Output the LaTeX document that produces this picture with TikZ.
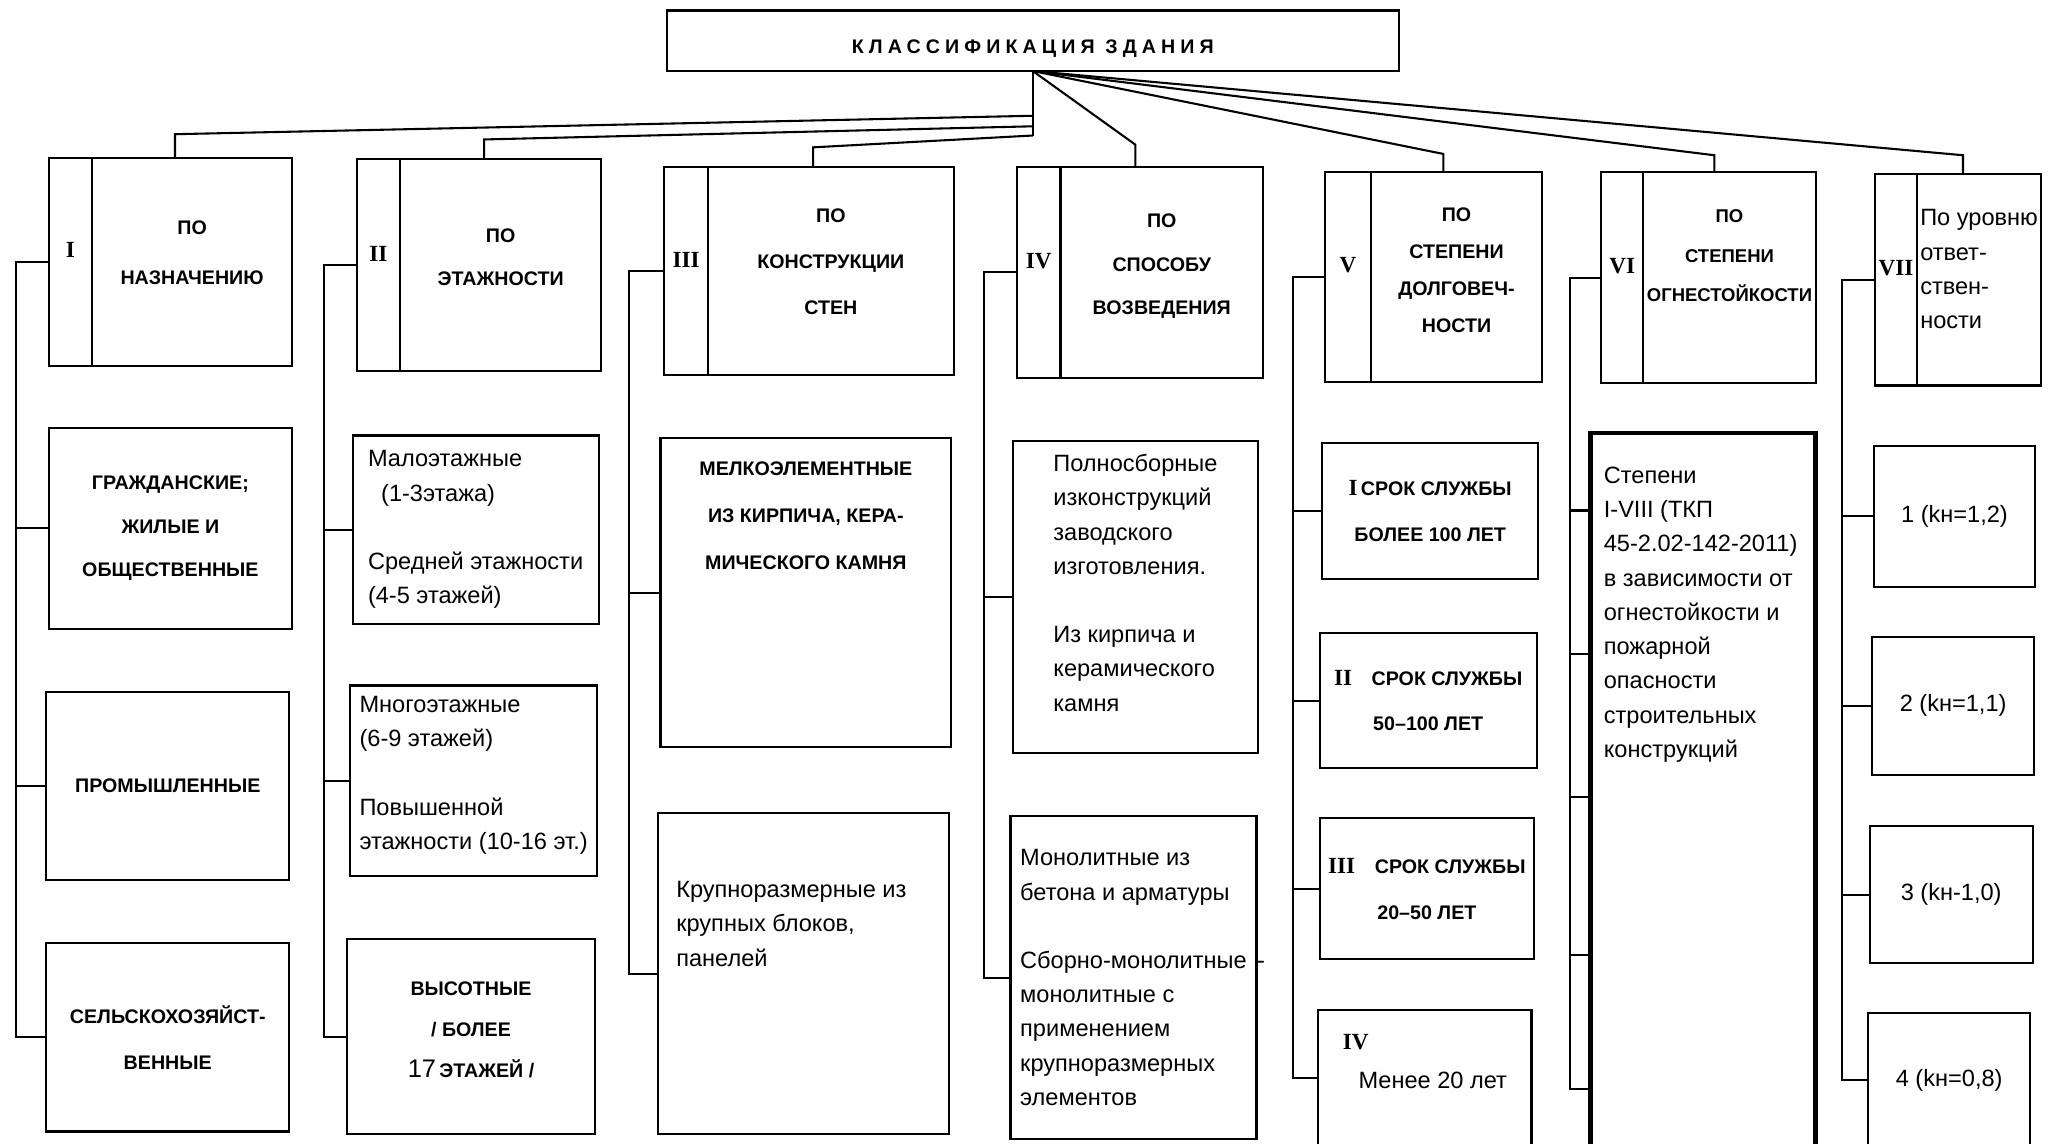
\documentclass[tikz,border=0pt]{standalone}
\usepackage{fontspec}
\setmainfont{Liberation Sans}
\newfontfamily\romfont{Liberation Serif}
\usetikzlibrary{positioning}
\newcommand\rnum[1]{{\romfont\bfseries\fontsize{10}{12}\selectfont #1}}
\newcommand\lift[1]{\rule[-#1]{0pt}{0pt}}

\begin{document}
\begin{tikzpicture}[x=0.2mm, y=-0.2mm,
  every node/.style={font=\fontsize{10.2}{14.8}\selectfont, inner sep=0.6mm, outer sep=0pt},
  box/.style={draw, line width=0.9pt},
  caps/.style={font=\fontsize{8.5}{#1}\selectfont\bfseries},
  caps/.default=19,
  numbox/.style={box, text depth=10pt, font=\romfont\bfseries\fontsize{10}{12}\selectfont},
  link/.style={line width=0.9pt}]

\useasboundingbox (0,0) rectangle (1568,869);
\clip (0,0) rectangle (1568,869);

% title
\node[box, caps, text height=13pt, minimum width=111.2mm, minimum height=9.2mm] (title) at (785,31)
  {\addfontfeature{LetterSpace=26}КЛАССИФИКАЦИЯ ЗДАНИЯ};

% categories: numeral strip + text part
\node[numbox, minimum width=6.6mm, minimum height=31.6mm] (nI) at (53.5,199) {I};
\node[box, caps=21.5, align=center, minimum width=30.4mm, minimum height=31.6mm, right=0pt of nI] (cI) {ПО\\НАЗНАЧЕНИЮ\lift{8pt}};

\node[numbox, minimum width=6.6mm, minimum height=32.2mm] (nII) at (287.5,201.5) {II};
\node[box, caps=18.7, align=center, minimum width=30.6mm, minimum height=32.2mm, right=0pt of nII] (cII) {ПО\\ЭТАЖНОСТИ\lift{7pt}};

\node[numbox, minimum width=6.6mm, minimum height=31.6mm] (nIII) at (521.5,206) {III};
\node[box, caps=19.8, align=center, minimum width=37.4mm, minimum height=31.6mm, right=0pt of nIII] (cIII) {ПО\\КОНСТРУКЦИИ\\СТЕН\lift{8pt}};

\node[numbox, minimum width=6.6mm, minimum height=32mm] (nIV) at (789.5,207) {IV};
\node[box, caps=18.7, align=center, minimum width=30.8mm, minimum height=32mm, right=0pt of nIV] (cIV) {ПО\\СПОСОБУ\\ВОЗВЕДЕНИЯ\lift{7pt}};

\node[numbox, minimum width=7mm, minimum height=31.8mm] (nV) at (1024.5,210.5) {V};
\node[box, caps=15.9, align=center, minimum width=26mm, minimum height=31.8mm, right=0pt of nV] (cV) {ПО\\СТЕПЕНИ\\ДОЛГОВЕЧ-\\НОСТИ\lift{6pt}};

\node[numbox, minimum width=6.4mm, minimum height=32mm] (nVI) at (1233,211) {VI};
\node[box, font=\fontsize{8}{17}\selectfont\bfseries, inner xsep=0pt, align=center, minimum width=26.2mm, minimum height=32mm, right=0pt of nVI] (cVI) {ПО\\СТЕПЕНИ\\ОГНЕСТОЙКОСТИ\lift{19pt}};

\node[numbox, minimum width=6.4mm, minimum height=32.2mm] (nVII) at (1441,212.5) {VII};
\node[box, inner xsep=0.3mm, align=left, minimum width=18.8mm, minimum height=32.2mm, right=0pt of nVII] (cVII) {По уровню\\ответ-\\ствен-\\ности\lift{9pt}};

% column I
\node[box, caps=18.7, align=center, minimum width=37mm, minimum height=30.6mm] (aI1) at (129.5,401.5) {ГРАЖДАНСКИЕ;\\ЖИЛЫЕ И\\ОБЩЕСТВЕННЫЕ};
\node[box, caps, align=center, minimum width=37mm, minimum height=28.6mm] (aI2) at (127.5,597.5) {ПРОМЫШЛЕННЫЕ};
\node[box, caps=19.8, align=center, minimum width=37mm, minimum height=28.6mm] (aI3) at (127.5,788.5) {СЕЛЬСКОХОЗЯЙСТ-\\ВЕННЫЕ};

% column II
\node[box, align=left, minimum width=37.4mm, minimum height=28.6mm] (aII1) at (361.5,402.5)
  {Малоэтажные\\\hspace*{2mm}(1-3этажа)\\[14.8pt]Средней этажности\\(4-5 этажей)};
\node[box, align=left, inner xsep=0.2mm, minimum width=37.6mm, minimum height=29mm] (aII2) at (360,593.5)
  {Многоэтажные\\(6-9 этажей)\\[14.8pt]Повышенной\\этажности (10-16 эт.)\lift{7pt}};
\node[box, caps=17.6, align=center, minimum width=37.6mm, minimum height=29.6mm] (aII3) at (358,788)
  {ВЫСОТНЫЕ\\/ БОЛЕЕ\\{\mdseries\fontsize{11}{14}\selectfont 17}\,ЭТАЖЕЙ /\lift{6pt}};

% column III
\node[box, minimum width=44.2mm, minimum height=47mm] (aIII1) at (612.5,450.5) {};
\node[caps=20.4, align=center, inner sep=0pt, below=3.6mm of aIII1.north] (lblIII1)
  {МЕЛКОЭЛЕМЕНТНЫЕ\\ИЗ КИРПИЧА, КЕРА-\\МИЧЕСКОГО КАМНЯ};
\node[box, minimum width=44.2mm, minimum height=48.8mm] (aIII2) at (610.5,740) {};
\node[align=left, inner sep=0pt, below right=10.4mm and 2.8mm of aIII2.north west] (lblIII2)
  {Крупноразмерные из\\крупных блоков,\\панелей};

% column IV
\node[box, align=left, minimum width=37.2mm, minimum height=47.4mm] (aIV1) at (863,453.5)
  {Полносборные\\изконструкций\\заводского\\изготовления.\\[14.8pt]Из кирпича и\\керамического\\камня\lift{12pt}};
\node[box, align=left, inner xsep=0.2mm, minimum width=37.4mm, minimum height=49.2mm] (aIV2) at (861.5,743)
  {Монолитные из\\бетона и арматуры\\[14.8pt]Сборно-монолитные\rlap{\hspace{1.6mm}-}\\монолитные с\\применением\\крупноразмерных\\элементов};

% column V
\node[box, caps=19.8, align=center, minimum width=32.8mm, minimum height=20.6mm] (aV1) at (1087,388.5) {\rnum{I}\,СРОК СЛУЖБЫ\\БОЛЕЕ 100 ЛЕТ};
\node[box, caps=19.8, align=center, minimum width=33mm, minimum height=20.6mm] (aV2) at (1085.5,532.5) {\rnum{II}\quad СРОК СЛУЖБЫ\\50–100 ЛЕТ};
\node[box, caps=19.8, align=center, minimum width=32.6mm, minimum height=21.4mm] (aV3) at (1084.5,675.5) {\rnum{III}\quad СРОК СЛУЖБЫ\\20–50 ЛЕТ};
\node[box, align=left, minimum width=32.4mm, minimum height=20.4mm] (aV4) at (1083,819) {\rnum{IV}\\[2pt]\hspace*{2.4mm}Менее 20 лет\lift{14pt}};

% column VI
\node[box, line width=2pt, minimum width=34.2mm, minimum height=114.2mm] (aVI) at (1294.5,614.5) {};
\node[align=left, inner sep=0pt, below right=5.2mm and 2mm of aVI.north west] (lblVI)
  {Степени\\I-VIII (ТКП\\45-2.02-142-2011)\\в зависимости от\\огнестойкости и\\пожарной\\опасности\\строительных\\конструкций};

% column VII
\node[box, minimum width=24.6mm, minimum height=21.4mm] (aVII1) at (1485.5,392.5) {1 (kн=1,2)};
\node[box, minimum width=24.6mm, minimum height=21mm] (aVII2) at (1484.5,536.5) {2 (kн=1,1)};
\node[box, minimum width=24.8mm, minimum height=20.8mm] (aVII3) at (1483,680) {3 (kн-1,0)};
\node[box, minimum width=24.6mm, minimum height=20.4mm] (aVII4) at (1481.5,821) {4 (kн=0,8)};

% links from the title
\coordinate (hub) at (title.south);
\foreach \n/\ty/\kx/\ky in {I/88/133/102, II/96/368/106, III/103/618/112} {
  \coordinate (tr\n) at (785,\ty);
  \coordinate (k\n) at (\kx,\ky);
}
\draw[link] (hub) -- (trIII);
\foreach \n in {I,II,III}
  \draw[link] (tr\n) -- (k\n) -- (k\n |- c\n.north);
\foreach \n/\kx/\ky in {IV/863/110, V/1097/117, VI/1303/118, VII/1492/118} {
  \coordinate (k\n) at (\kx,\ky);
  \draw[link] (hub) -- (k\n) -- (k\n |- c\n.north);
}

% side spines
\foreach \n/\sx in {I/12, II/246, III/478, IV/748, V/983, VI/1193, VII/1400}
  \coordinate (s\n) at (\sx,0);

\draw[link] (nI.west) -- (sI |- nI.west) -- (sI |- aI3.west) -- (aI3.west);
\foreach \c in {aI1,aI2} \draw[link] (\c.west) -- (sI |- \c.west);

\draw[link] (nII.west) -- (sII |- nII.west) -- (sII |- aII3.west) -- (aII3.west);
\foreach \c in {aII1,aII2} \draw[link] (\c.west) -- (sII |- \c.west);

\draw[link] (nIII.west) -- (sIII |- nIII.west) -- (sIII |- aIII2.west) -- (aIII2.west);
\draw[link] (aIII1.west) -- (sIII |- aIII1.west);

\draw[link] (nIV.west) -- (sIV |- nIV.west) -- (sIV |- aIV2.west) -- (aIV2.west);
\draw[link] (aIV1.west) -- (sIV |- aIV1.west);

\draw[link] (nV.west) -- (sV |- nV.west) -- (sV |- aV4.west) -- (aV4.west);
\foreach \c in {aV1,aV2,aV3} \draw[link] (\c.west) -- (sV |- \c.west);

\draw[link] (nVI.west) -- (sVI |- nVI.west) -- (sVI |- 0,828) -- (aVI.west |- 0,828);
\foreach \y in {388,497,606,726} \draw[link] (sVI |- 0,\y) -- (aVI.west |- 0,\y);

\draw[link] (nVII.west) -- (sVII |- nVII.west) -- (sVII |- aVII4.west) -- (aVII4.west);
\foreach \c in {aVII1,aVII2,aVII3} \draw[link] (\c.west) -- (sVII |- \c.west);

\end{tikzpicture}
\end{document}
